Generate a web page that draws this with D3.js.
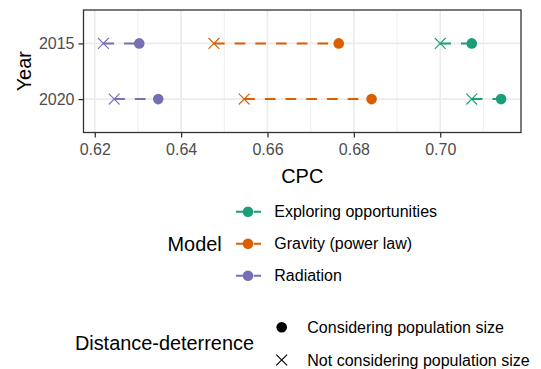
<!DOCTYPE html>
<html>
<head>
<meta charset="utf-8">
<script src="https://cdn.jsdelivr.net/npm/d3@7"></script>
<style>
  body { margin: 0; background: #fff; }
  svg { display: block; font-family: "Liberation Sans", Arial, sans-serif; }
</style>
</head>
<body>
<div id="chart"></div>
<script>
// data
var years = ["2015", "2020"];
var models = ["Exploring opportunities", "Gravity (power law)", "Radiation"];
var modelColors = ["#1B9E77", "#D95F02", "#7570B3"];
var deterrence = ["Considering population size", "Not considering population size"];
// CPC per model, one value per year (2015, 2020)
var cpcConsidering = [[0.7073, 0.7141], [0.6765, 0.6841], [0.6303, 0.6347]];
var cpcNotConsidering = [[0.7000, 0.7073], [0.6476, 0.6546], [0.6220, 0.6245]];
var xTicks = [0.62, 0.64, 0.66, 0.68, 0.70];
var xMinor = [0.63, 0.65, 0.67, 0.69, 0.71];

var width = 541, height = 369;
var panel = { left: 83.5, right: 521, top: 10, bottom: 132.5 };
var tickSize = 16, titleSize = 19.9;

var svg = d3.select("#chart").append("svg")
  .attr("width", width)
  .attr("height", height);

// build rows from the arrays
var rows = [];
models.forEach(function (m, i) {
  years.forEach(function (y, j) {
    rows.push({ model: m, color: modelColors[i], year: y,
      withPop: cpcConsidering[i][j], noPop: cpcNotConsidering[i][j] });
  });
});

var allVals = [];
rows.forEach(function (d) { allVals.push(d.withPop, d.noPop); });
var lo = d3.min(allVals), hi = d3.max(allVals), pad = (hi - lo) * 0.05;

var x = d3.scaleLinear().domain([lo - pad, hi + pad]).range([panel.left, panel.right]);
var y = d3.scalePoint().domain(years).range([panel.top, panel.bottom]).padding(0.6);

// grid
var grid = svg.append("g");
grid.selectAll(".minor").data(xMinor).enter().append("line")
  .attr("x1", function (d) { return x(d); }).attr("x2", function (d) { return x(d); })
  .attr("y1", panel.top).attr("y2", panel.bottom)
  .style("stroke", "#EBEBEB").style("stroke-width", 0.8);
grid.selectAll(".majorx").data(xTicks).enter().append("line")
  .attr("x1", function (d) { return x(d); }).attr("x2", function (d) { return x(d); })
  .attr("y1", panel.top).attr("y2", panel.bottom)
  .style("stroke", "#EBEBEB").style("stroke-width", 1.6);
grid.selectAll(".majory").data(years).enter().append("line")
  .attr("x1", panel.left).attr("x2", panel.right)
  .attr("y1", function (d) { return y(d); }).attr("y2", function (d) { return y(d); })
  .style("stroke", "#EBEBEB").style("stroke-width", 1.6);

// dashed segments between the two deterrence variants
svg.append("g").selectAll("line").data(rows).enter().append("line")
  .attr("x1", function (d) { return x(Math.min(d.withPop, d.noPop)); })
  .attr("x2", function (d) { return x(Math.max(d.withPop, d.noPop)); })
  .attr("y1", function (d) { return y(d.year); })
  .attr("y2", function (d) { return y(d.year); })
  .style("stroke", function (d) { return d.color; })
  .style("stroke-width", 2)
  .style("stroke-dasharray", "10.7 10");

// circles: considering population size
svg.append("g").selectAll("circle").data(rows).enter().append("circle")
  .attr("cx", function (d) { return x(d.withPop); })
  .attr("cy", function (d) { return y(d.year); })
  .attr("r", 5.3)
  .style("fill", function (d) { return d.color; });

// crosses: not considering population size
function crossPath(s) {
  return "M" + (-s) + "," + (-s) + "L" + s + "," + s + "M" + (-s) + "," + s + "L" + s + "," + (-s);
}
svg.append("g").selectAll("path").data(rows).enter().append("path")
  .attr("transform", function (d) { return "translate(" + x(d.noPop) + "," + y(d.year) + ")"; })
  .attr("d", crossPath(5.4))
  .style("fill", "none")
  .style("stroke", function (d) { return d.color; })
  .style("stroke-width", 1.1);

// panel border
svg.append("rect")
  .attr("x", panel.left).attr("y", panel.top)
  .attr("width", panel.right - panel.left).attr("height", panel.bottom - panel.top)
  .style("fill", "none").style("stroke", "#333333").style("stroke-width", 1.3);

// axes
var xAxis = svg.append("g")
  .attr("transform", "translate(0," + panel.bottom + ")")
  .call(d3.axisBottom(x).tickValues(xTicks).tickFormat(d3.format(".2f")).tickSize(5).tickPadding(6));
var yAxis = svg.append("g")
  .attr("transform", "translate(" + panel.left + ",0)")
  .call(d3.axisLeft(y).tickSize(5).tickPadding(4));
[xAxis, yAxis].forEach(function (a) {
  a.select(".domain").remove();
  a.selectAll(".tick line").style("stroke", "#333333").style("stroke-width", 1.3);
  a.selectAll(".tick text")
    .style("fill", "#4D4D4D")
    .style("font-size", tickSize + "px")
    .style("font-family", "'Liberation Sans', Arial, sans-serif");
});

svg.append("text")
  .attr("x", (panel.left + panel.right) / 2).attr("y", 183.4)
  .attr("text-anchor", "middle")
  .style("font-size", titleSize + "px")
  .text("CPC");
svg.append("text")
  .attr("transform", "translate(30.5," + (panel.top + panel.bottom) / 2 + ") rotate(-90)")
  .attr("text-anchor", "middle")
  .style("font-size", titleSize + "px")
  .text("Year");

// legend: Model
var modelY = d3.scalePoint().domain(models).range([211.7, 275.7]);
svg.append("text")
  .attr("x", 221.7).attr("y", 251.3)
  .attr("text-anchor", "end")
  .style("font-size", titleSize + "px")
  .text("Model");
var mKeys = svg.append("g").selectAll("g").data(models).enter().append("g")
  .attr("transform", function (d) { return "translate(0," + modelY(d) + ")"; });
mKeys.append("line")
  .attr("x1", 236).attr("x2", 261).attr("y1", 0).attr("y2", 0)
  .style("stroke", function (d, i) { return modelColors[i]; })
  .style("stroke-width", 2)
  .style("stroke-dasharray", "10.7 7");
mKeys.append("circle")
  .attr("cx", 248).attr("cy", 0).attr("r", 5.3)
  .style("fill", function (d, i) { return modelColors[i]; });
mKeys.append("text")
  .attr("x", 274.3).attr("y", 5.7)
  .style("font-size", tickSize + "px")
  .text(function (d) { return d; });

// legend: Distance-deterrence
var detY = d3.scalePoint().domain(deterrence).range([327.3, 360]);
svg.append("text")
  .attr("x", 254).attr("y", 350.3)
  .attr("text-anchor", "end")
  .style("font-size", titleSize + "px")
  .text("Distance-deterrence");
var dKeys = svg.append("g").selectAll("g").data(deterrence).enter().append("g")
  .attr("transform", function (d) { return "translate(0," + detY(d) + ")"; });
dKeys.filter(function (d, i) { return i === 0; }).append("circle")
  .attr("cx", 281.7).attr("cy", 0).attr("r", 5.3)
  .style("fill", "#000");
dKeys.filter(function (d, i) { return i === 1; }).append("path")
  .attr("transform", "translate(281.7,0)")
  .attr("d", crossPath(5.4))
  .style("fill", "none").style("stroke", "#000").style("stroke-width", 1.1);
dKeys.append("text")
  .attr("x", 307.3).attr("y", 5.7)
  .style("font-size", tickSize + "px")
  .text(function (d) { return d; });
</script>
</body>
</html>
